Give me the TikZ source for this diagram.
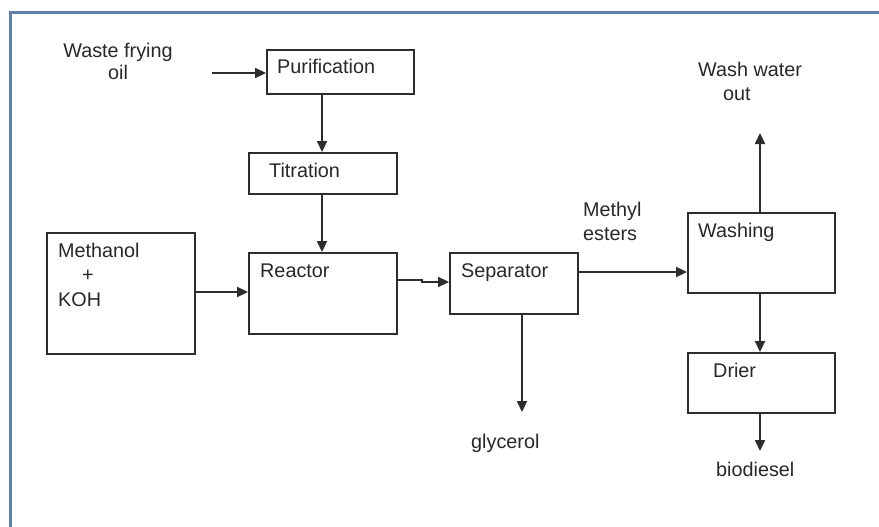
\documentclass[tikz,border=0pt]{standalone}
\usepackage{fontspec}
\setmainfont{Liberation Sans}
\usetikzlibrary{arrows.meta,calc}
\definecolor{framecol}{RGB}{96,128,170}
\definecolor{linecol}{RGB}{45,45,45}
\definecolor{txtcol}{RGB}{40,40,40}
\tikzset{
  box/.style={draw=linecol,line width=2pt,fill=white,anchor=north west,inner sep=0pt},
  lbl/.style={inner sep=0pt,anchor=base west,text=txtcol,font=\fontsize{19.8}{23}\selectfont},
  lblc/.style={inner sep=0pt,anchor=base,text=txtcol,font=\fontsize{19.8}{23}\selectfont},
  flow/.style={draw=linecol,line width=2.2pt,-{Triangle[length=11pt,width=10pt]}},
}
\begin{document}
\begin{tikzpicture}[x=1pt,y=-1pt]
\useasboundingbox (0,0) rectangle (879,527);
\fill[white] (0,0) rectangle (879,527);
% frame
\draw[framecol,line width=2.5pt] (10.5,527) -- (10.5,12.5) -- (879,12.5);
% boxes
\node[box,minimum width=147pt,minimum height=44pt] (pur) at (266,49) {};
\node[box,minimum width=148pt,minimum height=41pt] (tit) at (248,152) {};
\node[box,minimum width=148pt,minimum height=121pt] (meth) at (46,232) {};
\node[box,minimum width=148pt,minimum height=81pt] (reac) at (248,252) {};
\node[box,minimum width=128pt,minimum height=61pt] (sep) at (449,252) {};
\node[box,minimum width=147pt,minimum height=80pt] (wash) at (687,212) {};
\node[box,minimum width=147pt,minimum height=60pt] (drier) at (687,352) {};
% labels
\node[lblc] (waste1) at (118,58) {Waste frying};
\node[lblc] (waste2) at (118,80) {oil};
\node[lbl] (purt) at (277,74) {Purification};
\node[lbl] (titt) at (269,177) {Titration};
\node[lbl] (metht1) at (58,257) {Methanol};
\node[lblc] (metht2) at (88,281) {+};
\node[lbl] (metht3) at (58,306) {KOH};
\node[lbl] (react) at (260,277) {Reactor};
\node[lbl] (sept) at (461,277) {Separator};
\node[lbl] (mest1) at (583,216) {Methyl};
\node[lbl] (mest2) at (583,240) {esters};
\node[lbl] (washt) at (698,237) {Washing};
\node[lbl] (ww1) at (698,77) {Wash water};
\node[lbl] (ww2) at (723,101) {out};
\node[lbl] (driert) at (713,377) {Drier};
\node[lbl] (glyc) at (471,448) {glycerol};
\node[lbl] (biod) at (716,476) {biodiesel};
% coordinates for free ends
\coordinate (wasteend) at (212,73);
\coordinate (washout) at (760,133);
\coordinate (glycend) at (522,412);
\coordinate (biodend) at (760,451);
% connectors
\draw[flow] (wasteend) -- (wasteend -| pur.west);
\draw[flow] (pur.south -| 322,0) -- (tit.north -| 322,0);
\draw[flow] (tit.south -| 322,0) -- (reac.north -| 322,0);
\draw[flow] (meth.east |- 0,292) -- (reac.west |- 0,292);
\draw[flow] (reac.east |- 0,280) -- (422,280) -- (422,282) -- (sep.west |- 0,282);
\draw[flow] (sep.east |- 0,272) -- (wash.west |- 0,272);
\draw[flow] (wash.north -| washout) -- (washout);
\draw[flow] (sep.south -| glycend) -- (glycend);
\draw[flow] (wash.south -| 760,0) -- (drier.north -| 760,0);
\draw[flow] (drier.south -| biodend) -- (biodend);
\end{tikzpicture}
\end{document}
